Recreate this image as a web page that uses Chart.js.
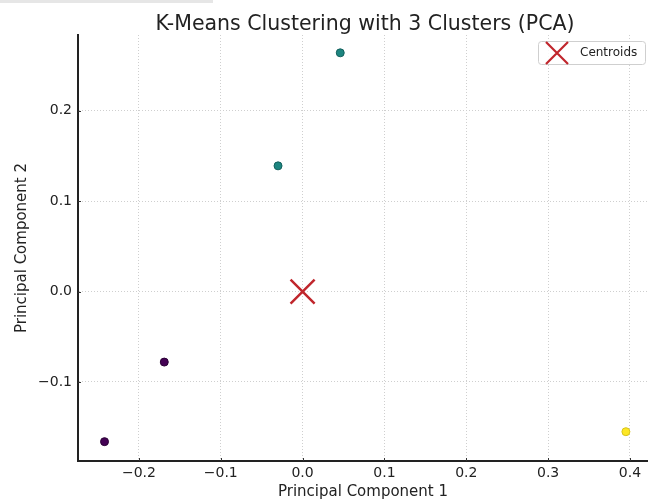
<!DOCTYPE html>
<html>
<head>
<meta charset="utf-8">
<script src="https://cdn.jsdelivr.net/npm/chart.js@4/dist/chart.umd.min.js"></script>
<style>
  html, body { margin: 0; padding: 0; background: #fff; }
  #wrap { position: relative; width: 648px; height: 501px; }
  #topbar { position: absolute; left: 0; top: 0; width: 213px; height: 3px; background: #e6e6e6; }
  canvas { display: block; }
</style>
</head>
<body>
<div id="wrap">
  <canvas id="c" width="648" height="501"></canvas>
  <div id="topbar"></div>
</div>
<script>
// ---- data ----
const titleText = 'K-Means Clustering with 3 Clusters (PCA)';
const xLabel = 'Principal Component 1';
const yLabel = 'Principal Component 2';
const xTicks = [-0.2, -0.1, 0.0, 0.1, 0.2, 0.3, 0.4];
const yTicks = [-0.1, 0.0, 0.1, 0.2];
const cluster0 = [{x: -0.169, y: -0.078}, {x: -0.242, y: -0.166}];
const cluster1 = [{x: 0.046, y: 0.264}, {x: -0.030, y: 0.139}];
const cluster2 = [{x: 0.395, y: -0.155}];
const centroids = [{x: 0.0, y: 0.0}];
const centroidLabel = 'Centroids';

const FONT = "'DejaVu Sans', sans-serif";
const fmt = v => {
  const s = Math.abs(v).toFixed(1);
  return (v < -1e-9 ? '\u2212' : '') + s;
};

const titlePlugin = {
  id: 'customTitle',
  afterDraw(chart) {
    const {ctx, chartArea} = chart;
    ctx.save();
    ctx.font = '20.5px ' + FONT;
    ctx.fillStyle = '#222';
    ctx.textAlign = 'center';
    ctx.textBaseline = 'alphabetic';
    ctx.fillText(titleText, (chartArea.left + chartArea.right) / 2 + 2, 30);
    ctx.restore();
  }
};

const tickPlugin = {
  id: 'innerTicks',
  afterDraw(chart) {
    const {ctx, chartArea, scales} = chart;
    ctx.save();
    ctx.strokeStyle = '#333';
    ctx.lineWidth = 1;
    scales.x.ticks.forEach(t => {
      const px = Math.round(scales.x.getPixelForValue(t.value)) + 0.5;
      ctx.beginPath();
      ctx.moveTo(px, chartArea.bottom);
      ctx.lineTo(px, chartArea.bottom - 3);
      ctx.stroke();
    });
    scales.y.ticks.forEach(t => {
      const py = Math.round(scales.y.getPixelForValue(t.value)) + 0.5;
      ctx.beginPath();
      ctx.moveTo(chartArea.left, py);
      ctx.lineTo(chartArea.left + 3, py);
      ctx.stroke();
    });
    ctx.restore();
  }
};

const legendPlugin = {
  id: 'customLegend',
  afterDraw(chart) {
    const {ctx} = chart;
    const ds = chart.data.datasets[3];
    const x = 538.5, y = 41.5, w = 107, h = 23;
    ctx.save();
    ctx.fillStyle = 'rgba(255,255,255,0.85)';
    ctx.strokeStyle = '#cfcfcf';
    ctx.lineWidth = 1;
    ctx.beginPath();
    ctx.roundRect(x, y, w, h, 3);
    ctx.fill();
    ctx.stroke();
    ctx.strokeStyle = ds.borderColor;
    ctx.lineWidth = 2.2;
    const cx = 557, cy = 53, r = 11;
    ctx.beginPath();
    ctx.moveTo(cx - r, cy - r); ctx.lineTo(cx + r, cy + r);
    ctx.moveTo(cx - r, cy + r); ctx.lineTo(cx + r, cy - r);
    ctx.stroke();
    ctx.font = '12px ' + FONT;
    ctx.fillStyle = '#222';
    ctx.textAlign = 'left';
    ctx.textBaseline = 'middle';
    ctx.fillText(ds.label, 580, 53);
    ctx.restore();
  }
};

const gridOpts = {
  color: '#cfcfcf',
  lineWidth: 1,
  drawTicks: false
};
const borderOpts = { display: true, color: '#222', width: 2, dash: [1, 2] };

new Chart(document.getElementById('c'), {
  type: 'scatter',
  data: {
    datasets: [
      { label: 'Cluster 0', data: cluster0, backgroundColor: '#440154', borderColor: '#2a0035', borderWidth: 1, pointRadius: 4 },
      { label: 'Cluster 1', data: cluster1, backgroundColor: '#1d8580', borderColor: '#12605c', borderWidth: 1, pointRadius: 4 },
      { label: 'Cluster 2', data: cluster2, backgroundColor: '#fde725', borderColor: '#d8c41a', borderWidth: 1, pointRadius: 4 },
      { label: centroidLabel, data: centroids, pointStyle: 'crossRot', borderColor: '#c0262c', backgroundColor: '#c0262c', borderWidth: 2.5, pointRadius: 17 }
    ]
  },
  options: {
    responsive: false,
    animation: false,
    devicePixelRatio: 1,
    layout: { autoPadding: false, padding: { top: 35, left: 0, right: 0, bottom: 0 } },
    plugins: {
      legend: { display: false },
      title: { display: false },
      tooltip: { enabled: false }
    },
    scales: {
      x: {
        type: 'linear',
        min: -0.2744,
        max: 0.422,
        afterBuildTicks: s => { s.ticks = xTicks.map(v => ({value: v})); },
        afterFit: s => { s.height = 40; s.paddingLeft = 0; s.paddingRight = 0; },
        grid: gridOpts,
        border: borderOpts,
        ticks: { callback: v => fmt(v), font: { family: FONT, size: 14 }, color: '#222', padding: 4, maxRotation: 0 },
        title: { display: true, text: xLabel, font: { family: FONT, size: 15 }, color: '#222', padding: { top: 0, bottom: 0 } }
      },
      y: {
        type: 'linear',
        min: -0.1874,
        max: 0.2837,
        afterBuildTicks: s => { s.ticks = yTicks.map(v => ({value: v})); },
        afterFit: s => { s.width = 78; s.paddingTop = 0; s.paddingBottom = 0; },
        grid: gridOpts,
        border: borderOpts,
        ticks: { callback: v => fmt(v), font: { family: FONT, size: 14 }, color: '#222', padding: 6 },
        title: { display: true, text: yLabel, font: { family: FONT, size: 15 }, color: '#222', padding: { top: 13, bottom: 0 } }
      }
    }
  },
  plugins: [titlePlugin, tickPlugin, legendPlugin]
});
</script>
</body>
</html>
